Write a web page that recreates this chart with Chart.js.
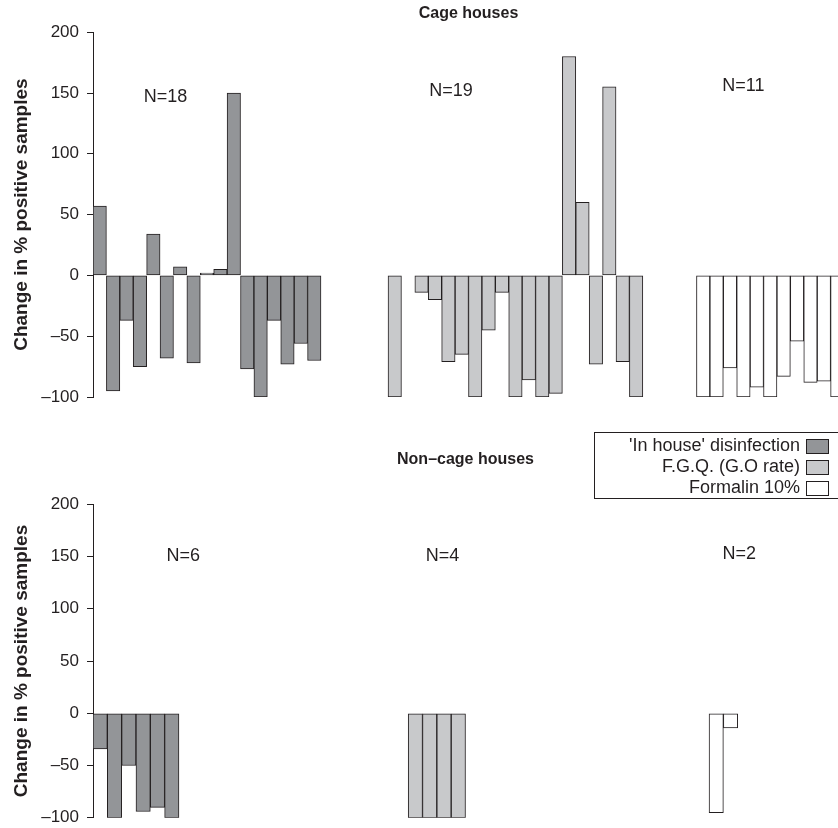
<!DOCTYPE html>
<html>
<head>
<meta charset="utf-8">
<script src="https://cdn.jsdelivr.net/npm/chart.js@4.4.1/dist/chart.umd.min.js"></script>
<style>
html, body { margin: 0; padding: 0; background: #fff; overflow: hidden; }
#wrap { position: relative; width: 838px; height: 828px; overflow: hidden; }
#cage { position: absolute; left: 0; top: 0; }
#noncage { position: absolute; left: 0; top: 420px; }
</style>
</head>
<body>
<div id="wrap">
  <canvas id="cage" width="844" height="420"></canvas>
  <canvas id="noncage" width="838" height="416"></canvas>
</div>
<script>
// values (% change per house)
var seriesNames = ["'In house' disinfection", 'F.G.Q. (G.O rate)', 'Formalin 10%'];
var cageDisinf   = [57, -95, -37, -75, 34, -68, 7, -72, 2, 5, 150, -77, -100, -37, -73, -56, -70, 0];
var cageFGQ      = [-100, 0, -14, -20, -71, -65, -100, -45, -14, -100, -86, -100, -97, 180, 60, -73, 155, -71, -100];
var cageFormalin = [-100, -100, -76, -100, -92, -100, -83, -54, -88, -87, -100];
var nonCageDisinf   = [-34, -100, -50, -94, -90, -100];
var nonCageFGQ      = [-100, -100, -100, -100];
var nonCageFormalin = [-95, -14];
var yTicks = [-100, -50, 0, 50, 100, 150, 200];

var ink = '#231f20';
var fills = ['#939598', '#c8c9cb', '#ffffff'];
var font = '"Liberation Sans", Arial, Helvetica, sans-serif';

// lay each group out on a run of slots along the x axis
function slots(n, groups, starts) {
    return groups.map(function (g, gi) {
        var arr = new Array(n).fill(null);
        g.forEach(function (v, i) { arr[starts[gi] + i] = v; });
        return arr;
    });
}

var nLabelsPlugin = {
    id: 'nLabels',
    afterDatasetsDraw: function (chart, args, opts) {
        var ctx = chart.ctx, x = chart.scales.x, y = chart.scales.y;
        var slotW = x.width / chart.data.labels.length;
        ctx.save();
        ctx.fillStyle = ink;
        ctx.font = '18px ' + font;
        ctx.textAlign = 'center';
        ctx.textBaseline = 'middle';
        opts.groups.forEach(function (g, i) {
            var px = x.left + (opts.starts[i] + opts.at[i]) * slotW;
            ctx.fillText('N=' + g.length, px, y.getPixelForValue(opts.level[i]));
        });
        ctx.restore();
    }
};

var boxLegend = {
    id: 'boxLegend',
    afterDraw: function (chart, args, opts) {
        if (!opts.show) return;
        var ctx = chart.ctx;
        ctx.save();
        ctx.strokeStyle = ink;
        ctx.lineWidth = 1;
        ctx.fillStyle = '#fff';
        ctx.fillRect(opts.left, opts.top, opts.width, opts.height);
        ctx.strokeRect(opts.left + 0.5, opts.top + 0.5, opts.width, opts.height);
        ctx.font = '18px ' + font;
        ctx.textAlign = 'right';
        ctx.textBaseline = 'middle';
        chart.data.datasets.forEach(function (ds, i) {
            var ry = opts.top + opts.first + i * opts.gap;
            ctx.fillStyle = ink;
            ctx.fillText(ds.label, opts.textRight, ry);
            ctx.fillStyle = ds.backgroundColor;
            ctx.fillRect(opts.boxLeft, ry - 7, 22, 14);
            ctx.strokeRect(opts.boxLeft + 0.5, ry - 7 + 0.5, 22, 14);
        });
        ctx.restore();
    }
};

function panel(id, title, nSlots, groups, starts, titlePad, padBottom, nOpts, legendOpts) {
    var data = slots(nSlots, groups, starts);
    var labels = [];
    for (var i = 0; i < nSlots; i++) labels.push('');
    return new Chart(document.getElementById(id), {
        type: 'bar',
        data: {
            labels: labels,
            datasets: data.map(function (d, i) {
                return {
                    label: seriesNames[i],
                    data: d,
                    backgroundColor: fills[i],
                    borderColor: ink,
                    borderWidth: 1,
                    borderSkipped: false,
                    grouped: false,
                    categoryPercentage: 1,
                    barPercentage: 1
                };
            })
        },
        options: {
            responsive: false,
            animation: false,
            layout: { padding: { left: 0, right: 0, top: 0, bottom: padBottom } },
            plugins: {
                legend: { display: false },
                tooltip: { enabled: false },
                title: {
                    display: true,
                    text: title,
                    fullSize: false,
                    color: ink,
                    font: { family: font, size: 16, weight: 'bold' },
                    padding: titlePad
                },
                nLabels: nOpts,
                boxLegend: legendOpts
            },
            scales: {
                x: { display: false },
                y: {
                    min: -100,
                    max: 200,
                    afterBuildTicks: function (s) {
                        s.ticks = yTicks.map(function (v) { return { value: v }; });
                    },
                    afterFit: function (s) { s.width = 93; },
                    ticks: {
                        color: ink,
                        padding: 8,
                        font: { family: font, size: 17 },
                        callback: function (v) { return v < 0 ? '\u2013' + Math.abs(v) : v; }
                    },
                    grid: { drawOnChartArea: false, tickLength: 6, color: ink },
                    border: { color: ink, width: 1 },
                    title: {
                        display: true,
                        text: 'Change in % positive samples',
                        color: ink,
                        font: { family: font, size: 19, weight: 'bold' },
                        padding: { top: 10, bottom: 0 }
                    }
                }
            }
        },
        plugins: [nLabelsPlugin, boxLegend]
    });
}

var cageGroups = [cageDisinf, cageFGQ, cageFormalin];
var nonCageGroups = [nonCageDisinf, nonCageFGQ, nonCageFormalin];

panel('cage', 'Cage houses', 56, cageGroups, [0, 22, 45],
    { top: 4, bottom: 9 }, 23,
    { groups: cageGroups, starts: [0, 22, 45], at: [5.4, 4.7, 3.5], level: [147, 152, 156] },
    { show: false });

panel('noncage', 'Non\u2013cage houses', 52, nonCageGroups, [0, 22, 43],
    { top: 30, bottom: 35 }, 0,
    { groups: nonCageGroups, starts: [0, 22, 43], at: [6.3, 2.4, 2.1], level: [150, 150, 152] },
    { show: true, left: 594, top: 12, width: 246, height: 66, first: 14, gap: 21, textRight: 800, boxLeft: 806 });
</script>
</body>
</html>
